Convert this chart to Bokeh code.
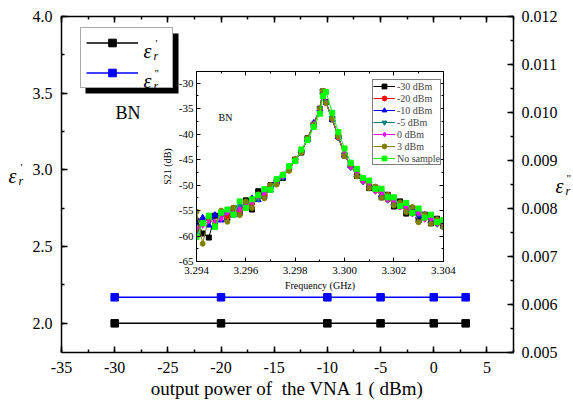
from bokeh.plotting import figure
from bokeh.models import (Range1d, LinearAxis, SingleIntervalTicker, NumeralTickFormatter,
                          Legend, LegendItem, BoxAnnotation, Label)
from bokeh.embed import file_html
from bokeh.resources import INLINE

FONT = "Liberation Serif"

# ---------------- main chart data ----------------
power_dbm = [-30, -20, -10, -5, 0, 3]
eps_real = [2.0, 2.0, 2.0, 2.0, 2.0, 2.0]
eps_imag = [0.00615, 0.00615, 0.00615, 0.00615, 0.00615, 0.00615]

# ---------------- inset data ----------------
freq_ghz = [3.29400, 3.29425, 3.29450, 3.29475, 3.29500, 3.29525, 3.29550, 3.29575,
            3.29600, 3.29625, 3.29650, 3.29675, 3.29700, 3.29725, 3.29750, 3.29775,
            3.29800, 3.29825, 3.29850, 3.29875, 3.29900, 3.29912, 3.29925, 3.29950,
            3.29975, 3.30000, 3.30025, 3.30050, 3.30075, 3.30100, 3.30125, 3.30150,
            3.30175, 3.30200, 3.30225, 3.30250, 3.30275, 3.30300, 3.30325, 3.30350,
            3.30375, 3.30400]
s21_m30 = [-57.0, -59.5, -60.3, -56.0, -55.5, -56.5, -54.6, -55.5, -53.0, -54.8,
           -51.2, -52.2, -50.0, -49.2, -48.6, -46.6, -45.0, -43.6, -40.8, -38.2,
           -35.0, -31.6, -33.7, -37.1, -40.4, -44.2, -46.0, -48.2, -48.7, -50.6,
           -50.5, -52.4, -51.9, -54.2, -53.2, -55.6, -54.5, -56.9, -55.8, -57.5,
           -56.6, -58.0]
s21_m20 = [-58.8, -57.0, -56.7, -57.4, -55.6, -56.3, -54.6, -55.1, -53.4, -53.7,
           -52.0, -51.9, -50.3, -49.7, -48.1, -47.1, -45.1, -43.3, -41.1, -37.9,
           -35.2, -31.5, -33.9, -36.9, -40.7, -43.9, -46.4, -47.6, -49.2, -49.8,
           -51.1, -51.5, -52.9, -52.8, -54.3, -54.1, -55.6, -55.3, -56.6, -56.3,
           -57.6, -57.2]
s21_m10 = [-57.5, -56.4, -57.9, -55.9, -56.9, -55.0, -55.9, -54.0, -54.4, -52.6,
           -52.9, -51.2, -51.0, -49.3, -48.5, -46.7, -45.3, -43.2, -41.1, -37.8,
           -35.1, -31.7, -33.8, -37.1, -40.5, -44.1, -46.2, -48.0, -48.8, -50.2,
           -50.7, -52.0, -52.3, -53.6, -53.6, -54.9, -54.9, -56.1, -55.9, -57.1,
           -56.9, -58.1]
s21_m5 = [-59.8, -57.3, -56.6, -57.5, -56.0, -55.3, -55.7, -54.3, -54.2, -53.0,
          -52.7, -51.4, -50.8, -49.4, -48.4, -46.8, -45.2, -43.5, -40.9, -38.1,
          -35.0, -31.6, -33.8, -36.9, -40.7, -44.0, -46.5, -47.6, -49.3, -49.8,
          -51.1, -51.6, -52.9, -53.1, -54.2, -54.4, -55.5, -55.6, -56.5, -56.6,
          -57.6, -57.7]
s21_0 = [-58.5, -57.9, -57.0, -57.3, -56.6, -55.4, -55.6, -54.8, -53.6, -53.5,
         -52.2, -51.8, -50.4, -49.7, -48.2, -47.0, -45.1, -43.4, -41.0, -38.0,
         -35.1, -31.6, -33.8, -37.0, -40.6, -43.8, -46.4, -47.6, -49.2, -49.7,
         -51.2, -51.5, -52.8, -53.0, -54.3, -54.3, -55.6, -55.5, -56.7, -56.5,
         -57.5, -57.6]
s21_p3 = [-55.2, -61.5, -56.2, -58.0, -55.0, -57.2, -54.4, -55.9, -53.2, -54.5,
          -51.8, -52.6, -50.0, -49.9, -47.9, -47.2, -44.9, -43.6, -40.8, -38.1,
          -35.0, -31.5, -33.9, -37.0, -40.5, -44.3, -45.9, -48.3, -48.6, -50.6,
          -50.3, -52.5, -51.9, -54.0, -53.4, -55.3, -54.3, -57.3, -55.8, -57.6,
          -56.7, -58.3]
s21_none = [-60.2, -57.5, -56.0, -58.2, -55.4, -54.8, -55.8, -53.2, -54.5, -52.8,
            -52.0, -50.8, -50.9, -48.8, -48.0, -46.3, -45.3, -43.0, -41.2, -38.6,
            -36.0, -32.5, -31.7, -35.8, -39.6, -42.8, -45.6, -46.8, -48.6, -49.1,
            -50.8, -50.7, -52.4, -52.4, -54.1, -53.5, -55.5, -54.6, -56.4, -55.8,
            -57.3, -56.9]
series_labels = ["-30 dBm", "-20 dBm", "-10 dBm", "-5 dBm", "0 dBm", "3 dBm", "No sample"]
series_values = [s21_m30, s21_m20, s21_m10, s21_m5, s21_0, s21_p3, s21_none]
series_colors = ["black", "#ff0000", "#0000ff", "#008080", "#ff00ff", "#808000", "#00ff00"]
series_markers = ["square", "circle", "triangle", "inverted_triangle", "diamond", "circle", "square"]
series_sizes = [5, 5, 6, 6, 6, 5, 5]


def style_axis(ax, size, major_in, minor_in, lw, show_labels=True):
    ax.axis_line_width = lw
    ax.axis_line_color = "black"
    ax.major_tick_line_width = lw
    ax.minor_tick_line_width = lw
    ax.major_tick_in = major_in
    ax.major_tick_out = 0
    ax.minor_tick_in = minor_in
    ax.minor_tick_out = 0
    ax.major_label_text_font = FONT
    ax.major_label_text_font_size = size
    ax.major_label_text_color = "black" if show_labels else None
    ax.axis_label_text_font = FONT
    ax.axis_label_text_font_style = "normal"
    ax.axis_label_text_color = "black"


# ---------------- main figure ----------------
FL, FR, FT, FB = 61, 513, 16, 352   # page pixel frame
W, H = 573, 406

p = figure(width=W, height=H, x_range=Range1d(-35, 7.5), y_range=Range1d(1.81, 4.0),
           output_backend="svg", toolbar_location=None,
           min_border_left=FL, min_border_right=W - FR, min_border_top=FT,
           min_border_bottom=H - FB)
p.grid.visible = False
p.outline_line_color = None
p.background_fill_color = "white"
p.border_fill_color = "white"
p.extra_y_ranges = {"r": Range1d(0.005, 0.012)}

xa = p.xaxis[0]
xa.ticker = SingleIntervalTicker(interval=5, num_minor_ticks=2)
xa.formatter = NumeralTickFormatter(format="0")
style_axis(xa, "16px", 6, 3, 1.5)
xa.major_label_standoff = 9
xa.axis_label = "output power of\u00a0 the VNA 1 ( dBm)"
xa.axis_label_text_font_size = "19px"
xa.axis_label_standoff = 2

ya = p.yaxis[0]
ya.ticker = SingleIntervalTicker(interval=0.5, num_minor_ticks=2)
ya.formatter = NumeralTickFormatter(format="0.0")
style_axis(ya, "16px", 6, 3, 1.5)
ya.major_label_standoff = 9

top = LinearAxis(ticker=SingleIntervalTicker(interval=5, num_minor_ticks=2))
style_axis(top, "1px", 6, 3, 1.5, show_labels=False)
top.major_label_standoff = 0
p.add_layout(top, "above")

ra = LinearAxis(y_range_name="r", ticker=SingleIntervalTicker(interval=0.001, num_minor_ticks=2),
                formatter=NumeralTickFormatter(format="0.000"))
style_axis(ra, "16px", 6, 3, 1.5)
ra.major_label_standoff = 8
p.add_layout(ra, "right")

l_real = p.line(power_dbm, eps_real, color="black", line_width=1.5)
m_real = p.scatter(power_dbm, eps_real, marker="square", size=7.5, color="black")
l_imag = p.line(power_dbm, eps_imag, color="#0000ff", line_width=1.5, y_range_name="r")
m_imag = p.scatter(power_dbm, eps_imag, marker="square", size=7.5, color="#0000ff", y_range_name="r")

# legend shadow (screen-pixel box converted through the frame) + legend
XS = (7.5 + 35) / (FR - FL)
YS = (4.0 - 1.81) / (FB - FT)
p.add_layout(BoxAnnotation(left=-35 + (85 - FL) * XS, right=-35 + (178 - FL) * XS,
                           top=4.0 - (33 - FT) * YS, bottom=4.0 - (93 - FT) * YS,
                           fill_color="black", fill_alpha=1.0, line_color=None))
main_leg = Legend(items=[LegendItem(label=" ", renderers=[l_real, m_real]),
                         LegendItem(label="  ", renderers=[l_imag, m_imag])],
                  location=(80 - FL, FB - 88), orientation="vertical",
                  glyph_width=52, glyph_height=19, label_height=19, label_width=29,
                  label_standoff=0, spacing=11, padding=5, margin=0,
                  border_line_color="#555555", border_line_width=1,
                  background_fill_color="white", background_fill_alpha=1.0)
p.add_layout(main_leg, "center")

# ---------------- inset ----------------
ins = figure(width=308, height=232, x_range=Range1d(3.294, 3.30401), y_range=Range1d(-65, -27.7),
             output_backend="svg", toolbar_location=None,
             min_border_left=46, min_border_right=15, min_border_top=8, min_border_bottom=34)
ins.styles = {"position": "absolute", "left": "150px", "top": "63px"}
ins.grid.visible = False
ins.outline_line_color = None
ins.background_fill_alpha = 0
ins.border_fill_alpha = 0

ixa = ins.xaxis[0]
ixa.ticker = SingleIntervalTicker(interval=0.002, num_minor_ticks=2)
ixa.formatter = NumeralTickFormatter(format="0.000")
style_axis(ixa, "11px", 4, 2, 1)
ixa.major_label_standoff = 5
ixa.axis_label = "Frequency (GHz)"
ixa.axis_label_text_font_size = "10px"
ixa.axis_label_standoff = 3

iya = ins.yaxis[0]
iya.ticker = SingleIntervalTicker(interval=5, num_minor_ticks=2)
iya.formatter = NumeralTickFormatter(format="0")
style_axis(iya, "11px", 4, 2, 1)
iya.major_label_standoff = 3
iya.axis_label = "S21 (dB)"
iya.axis_label_text_font_size = "10px"
iya.axis_label_standoff = 3

itop = LinearAxis(ticker=SingleIntervalTicker(interval=0.002, num_minor_ticks=2))
style_axis(itop, "1px", 4, 2, 1, show_labels=False)
itop.major_label_standoff = 0
ins.add_layout(itop, "above")
iright = LinearAxis(ticker=SingleIntervalTicker(interval=5, num_minor_ticks=2))
style_axis(iright, "1px", 4, 2, 1, show_labels=False)
iright.major_label_standoff = 0
ins.add_layout(iright, "right")

for lab, ys, col, mk, sz in zip(series_labels, series_values, series_colors, series_markers, series_sizes):
    ins.line(freq_ghz, ys, color=col, line_width=1, legend_label=lab)
    ins.scatter(freq_ghz, ys, marker=mk, size=sz, color=col, legend_label=lab)

ileg = ins.legend[0]
ileg.location = (176, 96)
ileg.margin = 0
ileg.padding = 0
ileg.spacing = 0
ileg.glyph_width = 22
ileg.glyph_height = 12
ileg.label_height = 12
ileg.label_standoff = 2
ileg.label_text_font = FONT
ileg.label_text_font_size = "10px"
ileg.border_line_color = "black"
ileg.border_line_width = 1
ileg.background_fill_alpha = 1.0

ins.add_layout(Label(x=3.29489, y=-36.7, text="BN", text_font=FONT, text_font_size="10px",
                     text_color="black", text_baseline="alphabetic"))

# ---------------- text overlay (page-pixel coordinates) ----------------
ov = figure(width=W, height=H, x_range=Range1d(0, W), y_range=Range1d(H, 0),
            output_backend="svg", toolbar_location=None,
            x_axis_location=None, y_axis_location=None,
            min_border=0, min_border_left=0, min_border_right=0,
            min_border_top=0, min_border_bottom=0)
ov.styles = {"position": "absolute", "left": "0px", "top": "0px", "pointer-events": "none"}
ov.grid.visible = False
ov.outline_line_color = None
ov.background_fill_alpha = 0
ov.border_fill_alpha = 0


def sym(px_x, py_base, text, size, italic=True):
    ov.add_layout(Label(x=px_x, y=py_base, text=text, text_font=FONT,
                        text_font_size=size, text_font_style="italic" if italic else "normal",
                        text_color="black", text_align="left", text_baseline="alphabetic"))


# legend symbols  (epsilon_r' and epsilon_r'')
sym(143, 50, "ε", "20px")
sym(153, 55, "r", "12px")
sym(155, 42, "'", "11px", italic=False)
sym(143, 80, "ε", "20px")
sym(153, 85, "r", "12px")
sym(154, 72, '"', "11px", italic=False)
sym(115, 112, "BN", "18px", italic=False)
# axis titles
sym(8, 175, "ε", "20px")
sym(18, 180, "r", "12px")
sym(20, 166, "'", "11px", italic=False)
sym(555, 185, "ε", "20px")
sym(565, 190, "r", "12px")
sym(566, 177, '"', "11px", italic=False)

open("out.html", "w").write(file_html([p, ins, ov], INLINE))
